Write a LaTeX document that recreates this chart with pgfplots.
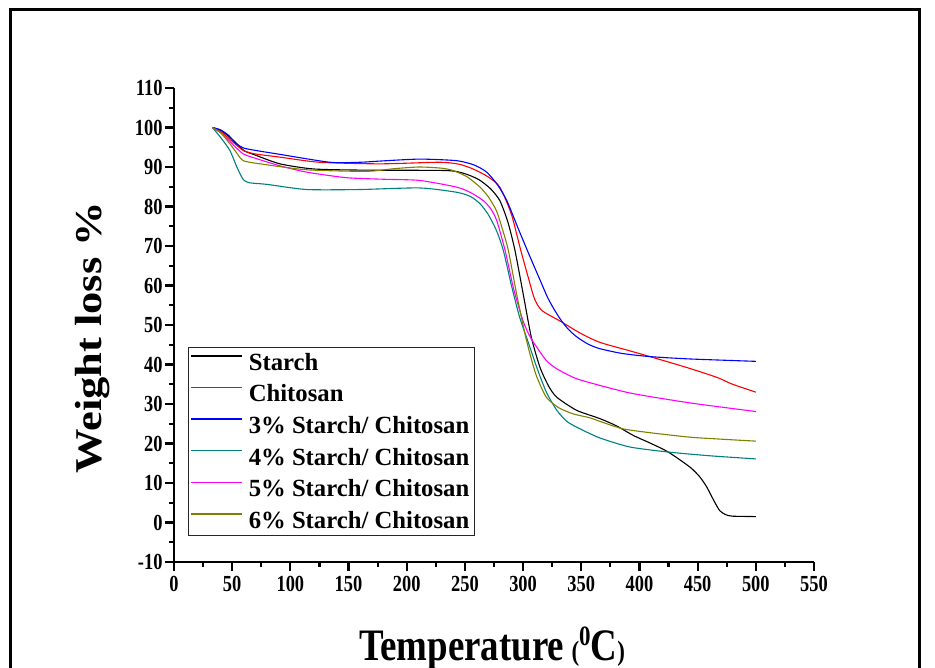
\documentclass[border=0pt]{standalone}
\usepackage{fontspec}
\setmainfont{Liberation Serif}
\newfontfamily\tickfont{Liberation Serif}[FakeStretch=0.8]
\newfontfamily\labfont{Liberation Serif}[FakeStretch=0.82]
\usepackage{graphicx}
\usepackage{pgfplots}
\pgfplotsset{compat=1.18}
\definecolor{cteal}{RGB}{0,128,128}
\definecolor{colive}{RGB}{128,128,0}
\definecolor{cmag}{RGB}{255,0,255}
\definecolor{cblue}{RGB}{0,0,255}
\definecolor{cred}{RGB}{255,0,0}
\begin{document}
\begin{tikzpicture}[x=1pt,y=1pt]
\begin{axis}[
  at={(174pt,-562pt)}, anchor=south west,
  scale only axis, width=640pt, height=474pt,
  xmin=0, xmax=550, ymin=-10, ymax=110,
  axis x line*=bottom, axis y line*=left,
  axis line style={line width=2.6pt},
  xtick={0,50,...,550}, ytick={-10,0,...,110},
  minor x tick num=1, minor y tick num=1,
  tick align=outside, major tick length=9pt, minor tick length=5pt,
  tick style={line width=2.2pt, black},
  tick label style={font=\fontsize{23}{23}\selectfont\tickfont\bfseries},
  xticklabel style={yshift=-2pt},
  yticklabel style={xshift=1pt},
  /pgf/number format/assume math mode=true,
  every axis x label/.style={at={(axis description cs:0.497,-0.207)}, anchor=base},
  every axis y label/.style={at={(axis description cs:-0.127,0.473)}, rotate=90, anchor=center},
  xlabel={\fontsize{45}{45}\selectfont\labfont\bfseries Temperature\,{\fontsize{28}{28}\selectfont(}\raisebox{15pt}{\fontsize{28}{28}\selectfont 0}C{\fontsize{28}{28}\selectfont)}},
  ylabel={\scalebox{1}[0.85]{\fontsize{44.5}{44.5}\selectfont\bfseries Weight loss \%}},
  legend style={at={(rel axis cs:0.0219,0.4536)}, anchor=north west, draw=black!85, line width=0.8pt,
    inner xsep=2pt, inner ysep=4pt, row sep=9.6pt, column sep=3pt,
    font=\fontsize{24.7}{24.7}\selectfont\bfseries,
    nodes={inner ysep=0pt, inner xsep=3pt, text height=19pt, text depth=3pt}},
  legend cell align=left,
  legend image code/.code={\draw[#1, line width=1.4pt] (0pt,6.5pt) -- (51pt,6.5pt);},
]
\addplot[black, line width=1.1pt, smooth, tension=0.4] coordinates {
(33,100) (40,99.3) (46,98) (52,96.5) (57,95) (61,94) (70,93) (91,90.8) (120,89.5) (165,89.2) (234,89.1) (250,88.3) (262,86.8) (272,84.5) (280,81.5) (287,76) (293,68.9) (300,58) (307,47) (314.5,39.3) (322,34.5) (329,31.7) (346,28.4) (366,26.3) (380,24.5) (395,22) (410,20) (425,17.8) (443.5,14) (452,11.5) (458,8.9) (464,5.5) (469,3.0) (474,2.0) (480,1.6) (500,1.5)};
\addlegendentry{Starch}
\addplot[cred, line width=1.1pt, smooth, tension=0.4] coordinates {
(33,100) (40,99) (47,97.3) (53,95.7) (60,94.1) (70,93.3) (91,92.5) (125,91.2) (177,90.8) (228,91.2) (245,90.7) (257,89.5) (270,87.5) (280,84.9) (290,78) (298,68.9) (306,60.4) (310,56.5) (316,53.7) (331.7,51) (350,47.8) (366,45.6) (390,43.6) (409,42) (440,39.3) (466,36.8) (480,35) (500,33)};
\addlegendentry{Chitosan}
\addplot[cblue, line width=1.1pt, smooth, tension=0.4] coordinates {
(33,100) (40,99.4) (47,98) (53,96) (60,94.8) (70,94.2) (91,93.2) (134,91.2) (160,91.2) (177,91.5) (211,92.0) (243,91.6) (258,90.5) (268.7,88.7) (278,85.5) (286,81.5) (295,75) (303.6,68.9) (310,64.5) (316,60.4) (321,57) (326,54.3) (331.7,51.6) (338,49.2) (344,47.5) (350,46.2) (357,45) (366,44) (385,42.8) (409,42) (443.5,41.4) (500,40.8)};
\addlegendentry{3\% Starch/ Chitosan}
\addplot[cteal, line width=1.1pt, smooth, tension=0.4] coordinates {
(33,100) (40,97.5) (48,94.2) (54,90) (59.6,86.8) (65,86) (80,85.6) (114,84.3) (160,84.3) (211,84.7) (243,83.6) (255,82.5) (263,80.7) (270,78) (277,74) (283,68.9) (290,60) (297,52) (304,46) (311.7,39.3) (320,33) (329,28.4) (338,25.5) (349,23.7) (366,21.4) (392,19.1) (426,17.8) (460,16.9) (500,16.1)};
\addlegendentry{4\% Starch/ Chitosan}
\addplot[cmag, line width=1.1pt, smooth, tension=0.4] coordinates {
(33,100) (40,98.7) (47,96.8) (53,95) (59.6,93.3) (70,92.2) (91,90.3) (114,88.7) (148,87.3) (180,86.9) (211,86.6) (243,84.9) (255,83.5) (265.8,81.5) (272,79.5) (277.3,76.5) (284.5,68.9) (292,59) (300,51) (306,47) (311.7,44.4) (320,41) (329,38.9) (345,36.5) (366,34.7) (390,32.9) (414.8,31.6) (450,30) (500,28.1)};
\addlegendentry{5\% Starch/ Chitosan}
\addplot[colive, line width=1.1pt, smooth, tension=0.4] coordinates {
(33,100) (40,98.7) (48,95.9) (54,93.5) (59.6,91.6) (74,90.8) (114,89.3) (165,88.9) (190,89.6) (211,90) (230,89.7) (240,89.1) (252,87.5) (263,84.9) (270,82.5) (277,79) (282,74.5) (287.3,68.9) (295,57) (303,46) (311,37.5) (320,31.7) (331,29) (343,27.5) (357.5,26.5) (366,25.6) (386,23.7) (410,22.7) (443.5,21.6) (470,21.1) (500,20.6)};
\addlegendentry{6\% Starch/ Chitosan}
\end{axis}
\draw[line width=3pt] (10pt,-700pt) -- (10pt,-10pt) -- (919pt,-10pt) -- (919pt,-700pt);
\pgfresetboundingbox
\useasboundingbox (0pt,0pt) rectangle (935pt,-668pt);
\end{tikzpicture}
\end{document}
